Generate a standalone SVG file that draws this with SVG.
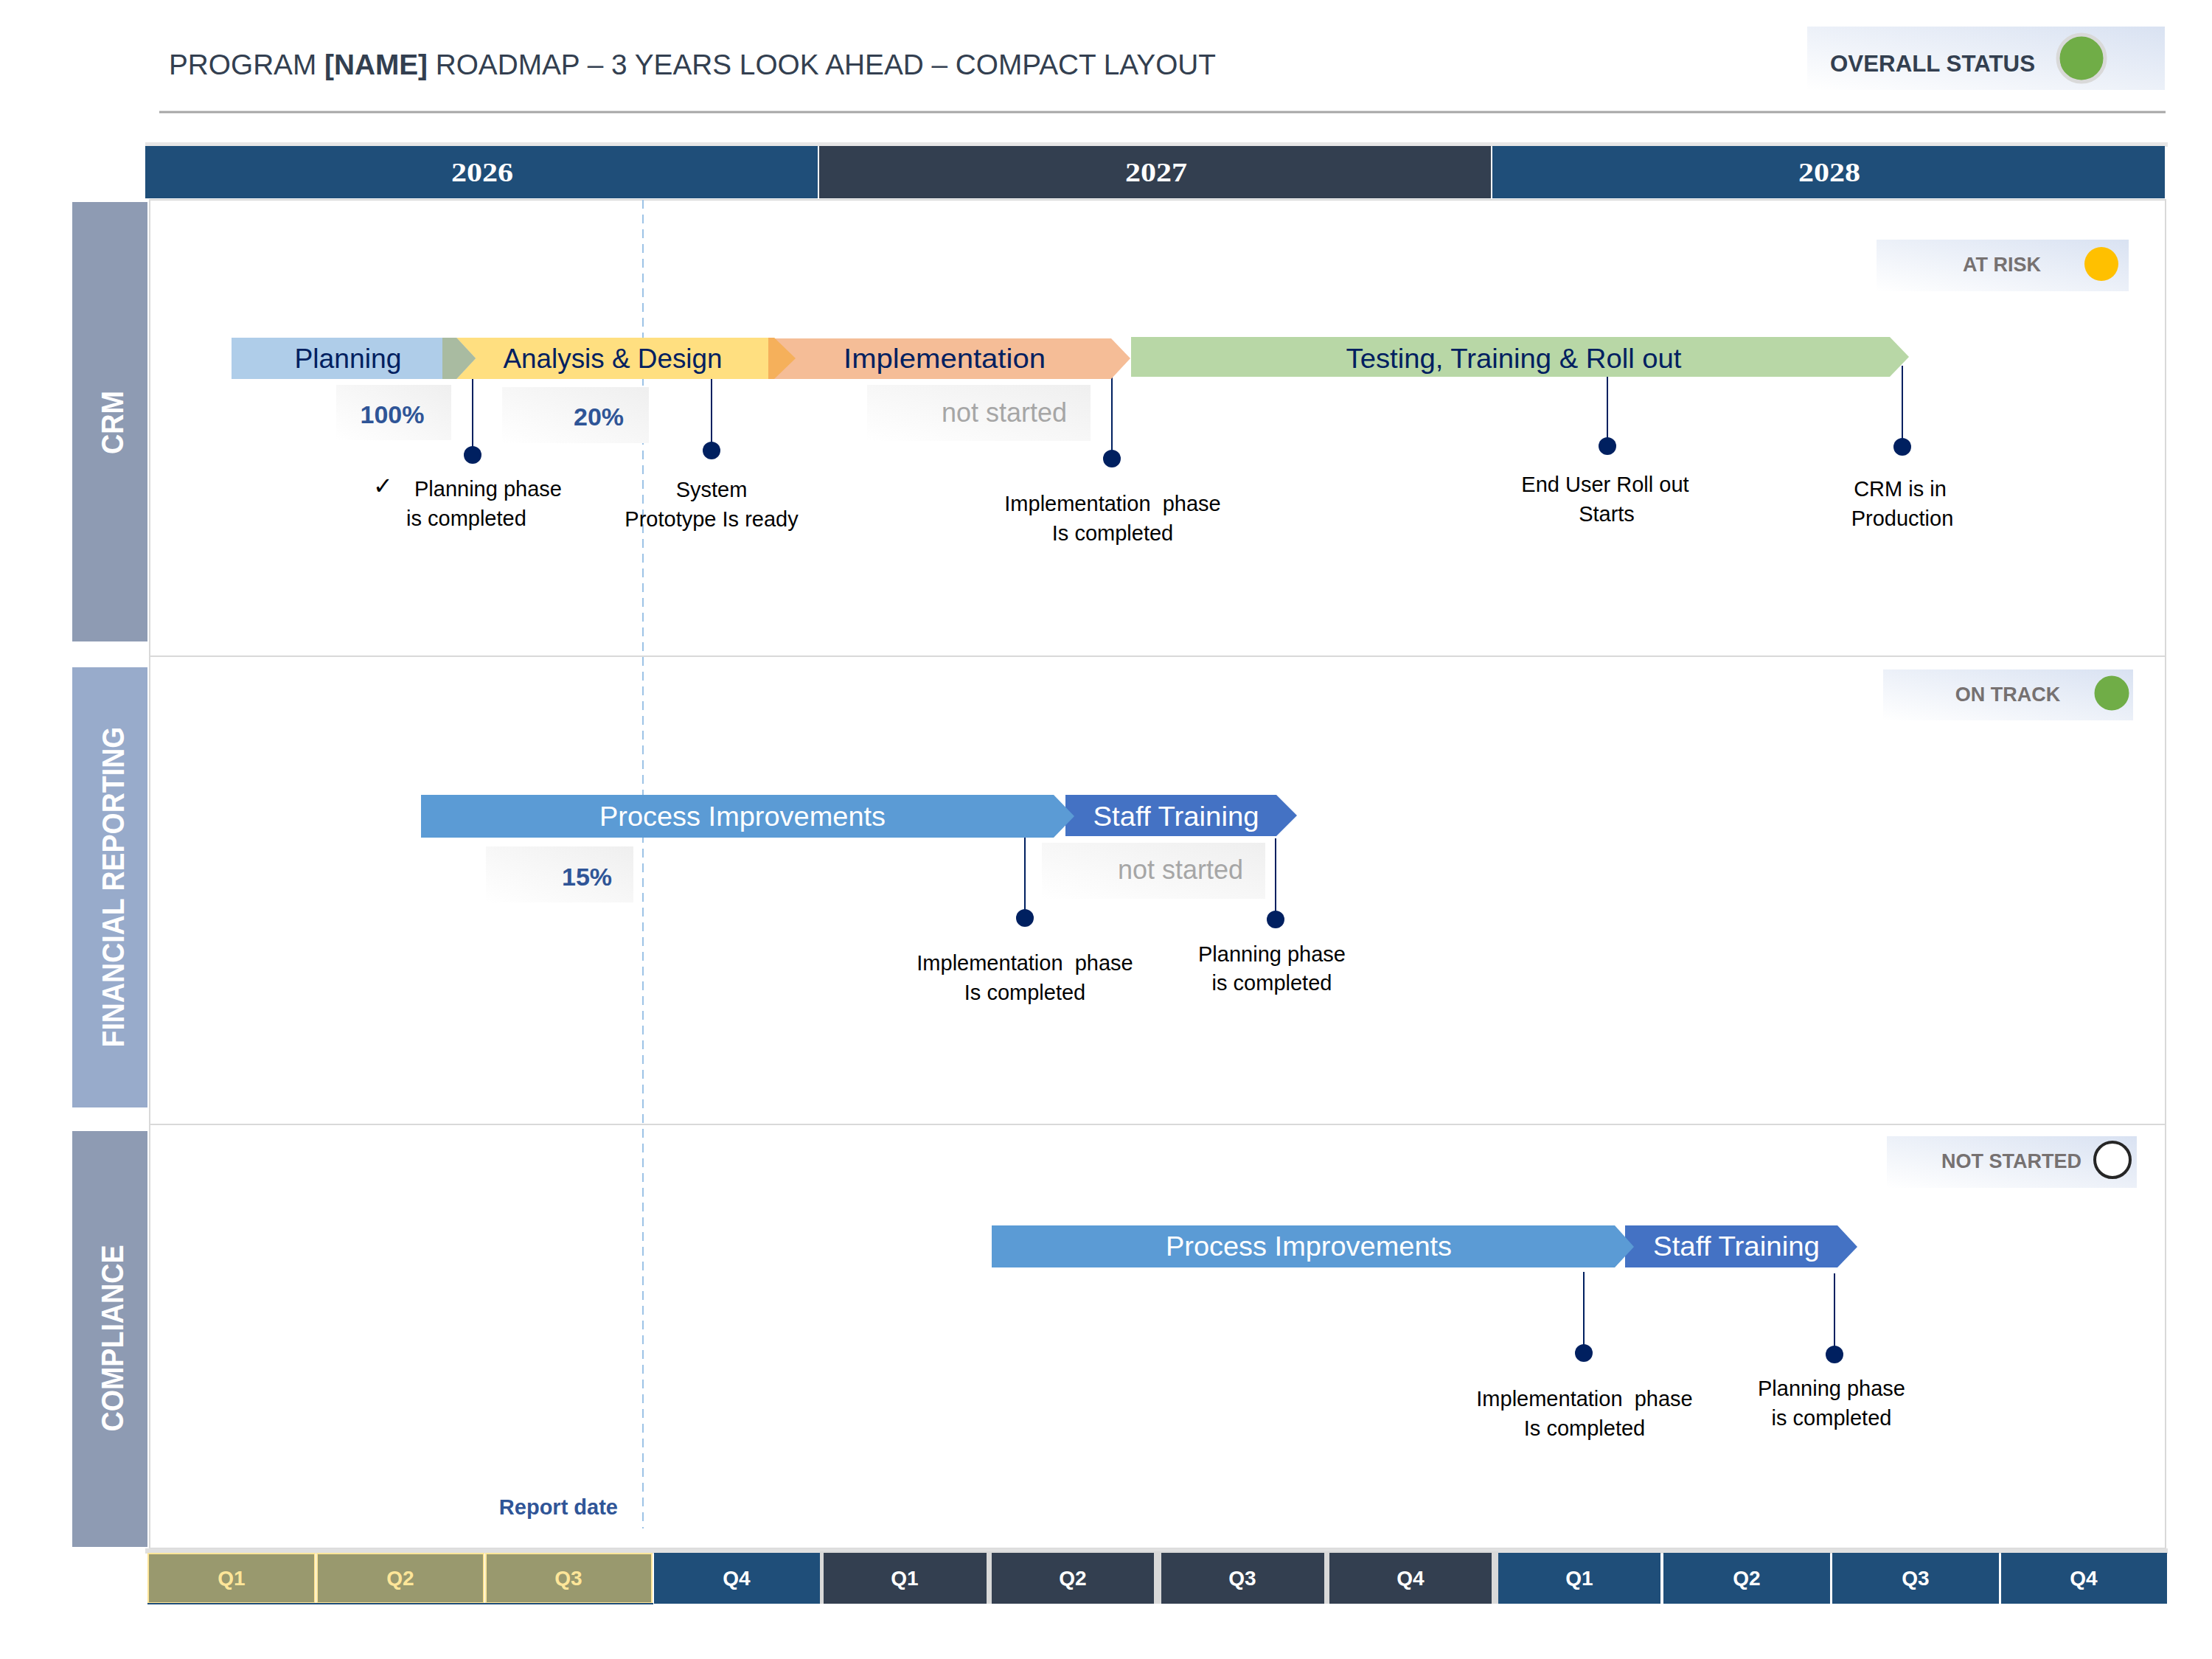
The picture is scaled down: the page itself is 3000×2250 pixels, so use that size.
<svg xmlns="http://www.w3.org/2000/svg" width="3000" height="2250" viewBox="0 0 3000 2250">
<defs>
<linearGradient id="gStatus" x1="0" y1="1" x2="1" y2="0"><stop offset="0" stop-color="#ffffff"/><stop offset="0.45" stop-color="#eef2f9"/><stop offset="1" stop-color="#d9e2f2"/></linearGradient>
<linearGradient id="gPct" x1="0" y1="1" x2="1" y2="0"><stop offset="0" stop-color="#ffffff"/><stop offset="0.5" stop-color="#f7f7f7"/><stop offset="1" stop-color="#efefef"/></linearGradient>
<style>
text{font-family:"Liberation Sans",Arial,sans-serif}
.title{font-size:39px;fill:#333f50}
.yr{font-family:"Liberation Serif","Times New Roman",serif;font-size:36px;font-weight:bold;fill:#fff;text-anchor:middle}
.lane{font-size:42px;font-weight:bold;fill:#fff;text-anchor:middle}
.bd{font-size:36px;fill:#002060;text-anchor:middle}
.bw{font-size:36px;fill:#fff;text-anchor:middle}
.pct{font-size:34px;font-weight:bold;fill:#2f5597;text-anchor:middle}
.ns{font-size:36px;fill:#a6a6a6;text-anchor:middle}
.ms{font-size:29px;fill:#000;text-anchor:middle}
.st{font-size:27px;font-weight:bold;fill:#767171;text-anchor:middle}
.q{font-size:28px;font-weight:bold;text-anchor:middle}
.stem{stroke:#002060;stroke-width:2;fill:none}
.dot{fill:#002060}
.lanebox{fill:#fff;stroke:#d9d9d9;stroke-width:2}
.pbox{fill:url(#gPct)}
.sbox{fill:url(#gStatus)}
</style>
</defs>
<rect width="3000" height="2250" fill="#fff"/>

<g id="title">
<text class="title" x="229" y="101" textLength="1420" lengthAdjust="spacingAndGlyphs">PROGRAM <tspan font-weight="bold">[NAME]</tspan> ROADMAP – 3 YEARS LOOK AHEAD – COMPACT LAYOUT</text>
<line x1="216" y1="152" x2="2937" y2="152" stroke="#a6a6a6" stroke-width="3"/>
</g>

<g id="overall-status">
<rect class="sbox" x="2451" y="36" width="485" height="86"/>
<text x="2482" y="97" font-size="31" font-weight="bold" fill="#333f50" textLength="278" lengthAdjust="spacingAndGlyphs">OVERALL STATUS</text>
<circle cx="2823" cy="79" r="32" fill="#70ad47" stroke="#d9d9d9" stroke-width="5"/>
</g>

<g id="year-header">
<rect x="197" y="193" width="2743" height="6" fill="#e7e6e6"/>
<rect x="197" y="198" width="912" height="71" fill="#1f4e79"/>
<rect x="1111" y="198" width="911" height="71" fill="#333f50"/>
<rect x="2024" y="198" width="912" height="71" fill="#1f4e79"/>
<text class="yr" x="654" y="246" textLength="84" lengthAdjust="spacingAndGlyphs">2026</text>
<text class="yr" x="1568" y="246" textLength="84" lengthAdjust="spacingAndGlyphs">2027</text>
<text class="yr" x="2481" y="246" textLength="84" lengthAdjust="spacingAndGlyphs">2028</text>
</g>

<g id="lanes">
<rect class="lanebox" x="203" y="271" width="2734" height="619"/>
<rect class="lanebox" x="203" y="890" width="2734" height="635"/>
<rect class="lanebox" x="203" y="1525" width="2734" height="575"/>
</g>

<g id="lane-crm">
<rect x="98" y="274" width="102" height="596" fill="#8e9bb3"/>
<text class="lane" transform="translate(167,573) rotate(-90)" textLength="86" lengthAdjust="spacingAndGlyphs">CRM</text>
</g>
<g id="lane-financial-reporting">
<rect x="98" y="905" width="102" height="597" fill="#98abcb"/>
<text class="lane" transform="translate(168,1203) rotate(-90)" textLength="435" lengthAdjust="spacingAndGlyphs">FINANCIAL REPORTING</text>
</g>
<g id="lane-compliance">
<rect x="98" y="1534" width="102" height="564" fill="#8e9bb3"/>
<text class="lane" transform="translate(167,1815) rotate(-90)" textLength="253" lengthAdjust="spacingAndGlyphs">COMPLIANCE</text>
</g>

<g id="report-date">
<line x1="872" y1="271" x2="872" y2="2073" stroke="#9dc3e6" stroke-width="2" stroke-dasharray="12,8"/>
<text x="838" y="2054" font-size="29" font-weight="bold" fill="#2f5597" text-anchor="end">Report date</text>
</g>

<g id="connectors">
<line class="stem" x1="641" y1="507" x2="641" y2="617"/>
<line class="stem" x1="965" y1="502" x2="965" y2="611"/>
<line class="stem" x1="1508" y1="512" x2="1508" y2="622"/>
<line class="stem" x1="2180" y1="503" x2="2180" y2="605"/>
<line class="stem" x1="2580" y1="496" x2="2580" y2="606"/>
<line class="stem" x1="1390" y1="1136" x2="1390" y2="1245"/>
<line class="stem" x1="1730" y1="1137" x2="1730" y2="1247"/>
<line class="stem" x1="2148" y1="1725" x2="2148" y2="1835"/>
<line class="stem" x1="2488" y1="1727" x2="2488" y2="1837"/>
</g>

<g id="crm-analysis-design">
<polygon points="600,458 1050,458 1079,486 1050,514 600,514" fill="#ffdf80"/>
</g>
<g id="crm-implementation">
<polygon points="1042,459 1507,459 1533,486 1507,514 1042,514" fill="#f5bd97"/>
<polygon points="1042,458 1050,458 1079,486 1050,514 1042,514" fill="#f5b05b"/>
<text class="bd" x="1281" y="499" textLength="274" lengthAdjust="spacingAndGlyphs">Implementation</text>
</g>
<g id="crm-planning">
<polygon points="314,458 619,458 645,486 619,514 314,514" fill="#afcde9"/>
<polygon points="600,458 619,458 645,486 619,514 600,514" fill="#a9bba1"/>
<text class="bd" x="472" y="499" textLength="145" lengthAdjust="spacingAndGlyphs">Planning</text>
</g>
<g id="crm-analysis-label">
<text class="bd" x="831" y="499" textLength="297" lengthAdjust="spacingAndGlyphs">Analysis &amp; Design</text>
</g>
<g id="crm-testing">
<polygon points="1534,457 2563,457 2589,484 2563,511 1534,511" fill="#b8d7a6"/>
<text class="bd" x="2053" y="499" textLength="455" lengthAdjust="spacingAndGlyphs">Testing, Training &amp; Roll out</text>
</g>

<g id="crm-pct-planning">
<rect class="pbox" x="456" y="522" width="156" height="75"/>
<text class="pct" x="532" y="574">100%</text>
</g>
<g id="crm-pct-analysis">
<rect class="pbox" x="681" y="525" width="199" height="76"/>
<text class="pct" x="812" y="577">20%</text>
</g>
<g id="crm-pct-implementation">
<rect class="pbox" x="1176" y="522" width="303" height="76"/>
<text class="ns" x="1362" y="572">not started</text>
</g>

<g id="crm-ms-planning">
<circle class="dot" cx="641" cy="617" r="12"/>
<text x="519" y="670" font-family="DejaVu Sans,sans-serif" font-size="32" fill="#000" text-anchor="middle">✓</text>
<text x="562" y="673" font-size="29" fill="#000">Planning phase</text>
<text x="551" y="713" font-size="29" fill="#000">is completed</text>
</g>
<g id="crm-ms-prototype">
<circle class="dot" cx="965" cy="611" r="12"/>
<text class="ms" x="965" y="674">System</text>
<text class="ms" x="965" y="714">Prototype Is ready</text>
</g>
<g id="crm-ms-implementation">
<circle class="dot" cx="1508" cy="622" r="12"/>
<text class="ms" x="1509" y="693" xml:space="preserve">Implementation  phase</text>
<text class="ms" x="1509" y="733">Is completed</text>
</g>
<g id="crm-ms-rollout">
<circle class="dot" cx="2180" cy="605" r="12"/>
<text class="ms" x="2177" y="667">End User Roll out</text>
<text class="ms" x="2179" y="707">Starts</text>
</g>
<g id="crm-ms-production">
<circle class="dot" cx="2580" cy="606" r="12"/>
<text class="ms" x="2577" y="673">CRM is in</text>
<text class="ms" x="2580" y="713">Production</text>
</g>
<g id="crm-status">
<rect class="sbox" x="2545" y="325" width="342" height="70"/>
<text class="st" x="2715" y="368">AT RISK</text>
<circle cx="2850" cy="358" r="23" fill="#ffc000"/>
</g>

<g id="fr-staff-training">
<polygon points="1445,1078 1731,1078 1759,1106 1731,1134 1445,1134" fill="#4472c4"/>
<text class="bw" x="1595" y="1120" textLength="225" lengthAdjust="spacingAndGlyphs">Staff Training</text>
</g>
<g id="fr-process-improvements">
<polygon points="571,1078 1429,1078 1457,1107 1429,1136 571,1136" fill="#5b9bd5"/>
<text class="bw" x="1007" y="1120" textLength="388" lengthAdjust="spacingAndGlyphs">Process Improvements</text>
</g>
<g id="fr-pct-pi">
<rect class="pbox" x="659" y="1148" width="200" height="76"/>
<text class="pct" x="796" y="1201">15%</text>
</g>
<g id="fr-pct-st">
<rect class="pbox" x="1413" y="1143" width="303" height="76"/>
<text class="ns" x="1601" y="1192">not started</text>
</g>
<g id="fr-ms-implementation">
<circle class="dot" cx="1390" cy="1245" r="12"/>
<text class="ms" x="1390" y="1316" xml:space="preserve">Implementation  phase</text>
<text class="ms" x="1390" y="1356">Is completed</text>
</g>
<g id="fr-ms-planning">
<circle class="dot" cx="1730" cy="1247" r="12"/>
<text class="ms" x="1725" y="1304">Planning phase</text>
<text class="ms" x="1725" y="1343">is completed</text>
</g>
<g id="fr-status">
<rect class="sbox" x="2554" y="908" width="339" height="69"/>
<text class="st" x="2723" y="951">ON TRACK</text>
<circle cx="2864" cy="940" r="23.5" fill="#70ad47"/>
</g>

<g id="co-staff-training">
<polygon points="2204,1662 2492,1662 2519,1691 2492,1719 2204,1719" fill="#4472c4"/>
<text class="bw" x="2355" y="1703" textLength="226" lengthAdjust="spacingAndGlyphs">Staff Training</text>
</g>
<g id="co-process-improvements">
<polygon points="1345,1662 2190,1662 2216,1691 2190,1719 1345,1719" fill="#5b9bd5"/>
<text class="bw" x="1775" y="1703" textLength="388" lengthAdjust="spacingAndGlyphs">Process Improvements</text>
</g>
<g id="co-ms-implementation">
<circle class="dot" cx="2148" cy="1835" r="12"/>
<text class="ms" x="2149" y="1907" xml:space="preserve">Implementation  phase</text>
<text class="ms" x="2149" y="1947">Is completed</text>
</g>
<g id="co-ms-planning">
<circle class="dot" cx="2488" cy="1837" r="12"/>
<text class="ms" x="2484" y="1893">Planning phase</text>
<text class="ms" x="2484" y="1933">is completed</text>
</g>
<g id="co-status">
<rect class="sbox" x="2559" y="1541" width="339" height="70"/>
<text class="st" x="2728" y="1584">NOT STARTED</text>
<circle cx="2865" cy="1573" r="24" fill="#fff" stroke="#262626" stroke-width="4"/>
</g>

<g id="quarter-row">
<rect x="197" y="2100" width="2743" height="7" fill="#e0e0e0"/>
<rect x="1112" y="2104" width="920" height="71" fill="#d9d9d9"/>
<g fill="#99996e" stroke="#ffe699" stroke-width="2">
<rect x="201" y="2107" width="226" height="67"/>
<rect x="430" y="2107" width="226" height="67"/>
<rect x="659" y="2107" width="225" height="67"/>
</g>
<line x1="200" y1="2175" x2="886" y2="2175" stroke="#1f4e79" stroke-width="2"/>
<rect x="887" y="2106" width="225" height="69" fill="#1f4e79"/>
<rect x="1117" y="2106" width="221" height="69" fill="#333f50"/>
<rect x="1345" y="2106" width="220" height="69" fill="#333f50"/>
<rect x="1575" y="2106" width="221" height="69" fill="#333f50"/>
<rect x="1803" y="2106" width="220" height="69" fill="#333f50"/>
<rect x="2032" y="2106" width="220" height="69" fill="#1f4e79"/>
<rect x="2256" y="2106" width="226" height="69" fill="#1f4e79"/>
<rect x="2485" y="2106" width="226" height="69" fill="#1f4e79"/>
<rect x="2714" y="2106" width="225" height="69" fill="#1f4e79"/>
<text class="q" x="314" y="2150" fill="#ffe699">Q1</text>
<text class="q" x="543" y="2150" fill="#ffe699">Q2</text>
<text class="q" x="771" y="2150" fill="#ffe699">Q3</text>
<text class="q" x="999" y="2150" fill="#fff">Q4</text>
<text class="q" x="1227" y="2150" fill="#fff">Q1</text>
<text class="q" x="1455" y="2150" fill="#fff">Q2</text>
<text class="q" x="1685" y="2150" fill="#fff">Q3</text>
<text class="q" x="1913" y="2150" fill="#fff">Q4</text>
<text class="q" x="2142" y="2150" fill="#fff">Q1</text>
<text class="q" x="2369" y="2150" fill="#fff">Q2</text>
<text class="q" x="2598" y="2150" fill="#fff">Q3</text>
<text class="q" x="2826" y="2150" fill="#fff">Q4</text>
</g>
</svg>
